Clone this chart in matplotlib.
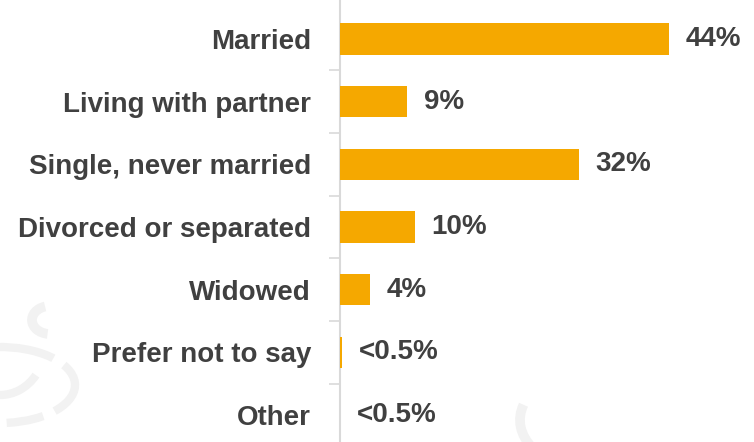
import matplotlib
matplotlib.use("Agg")
from matplotlib import pyplot as plt
from matplotlib.patches import Arc
from matplotlib.ticker import FixedLocator

categories = ["Married", "Living with partner", "Single, never married",
              "Divorced or separated", "Widowed", "Prefer not to say", "Other"]
values = [44, 9, 32, 10, 4, 0.3, 0.05]
labels = ["44%", "9%", "32%", "10%", "4%", "<0.5%", "<0.5%"]

bar_color = "#F5A800"
text_color = "#404040"
grid_gray = "#D9D9D9"
sketch_gray = "#F2F2F2"

plt.rcParams['font.family'] = ['Liberation Sans', 'DejaVu Sans']

fig = plt.figure(figsize=(7.54, 4.42), dpi=100)

# faint decorative sketch in the background (pixel coords)
bg = fig.add_axes([0, 0, 1, 1], zorder=0)
bg.set_xlim(0, 754)
bg.set_ylim(442, 0)
bg.axis("off")
bg.add_patch(Arc((0, 385), 150, 76, theta1=-95, theta2=80, color=sketch_gray,
                 lw=6, linestyle=(0, (7, 1.5))))
bg.add_patch(Arc((0, 345), 90, 100, theta1=40, theta2=90, color=sketch_gray, lw=6))
bg.add_patch(Arc((50, 320), 36, 28, theta1=100, theta2=250, color=sketch_gray, lw=7))
bg.add_patch(Arc((610, 420), 180, 110, theta1=160, theta2=190, color=sketch_gray, lw=7))
bg.add_patch(Arc((640, 510), 170, 150, theta1=55, theta2=125, color=sketch_gray, lw=8))

ax = fig.add_axes([0.451, 0.0, 0.549, 1.0], zorder=1)
ax.patch.set_alpha(0)

y = list(range(len(categories)))
ax.barh(y, values, height=0.5, color=bar_color, zorder=3)

for i in range(len(values)):
    ax.annotate(labels[i], (values[i], y[i]), xytext=(12, 0),
                textcoords="offset points", va="center", ha="left",
                fontsize=20, fontweight="bold", color=text_color)

ax.set_xlim(0, 55.4)
ax.set_ylim(6.43, -0.622)
ax.set_yticks(y)
ax.set_yticklabels(categories, fontsize=20, fontweight="bold", color=text_color)
ax.tick_params(axis="y", which="major", length=0, pad=21)
ax.yaxis.set_minor_locator(FixedLocator([i + 0.5 for i in range(len(categories) - 1)]))
ax.tick_params(axis="y", which="minor", length=8, width=1.2, color=grid_gray, direction="out")
ax.set_xticks([])

for s in ["top", "right", "bottom"]:
    ax.spines[s].set_visible(False)
ax.spines["left"].set_color(grid_gray)
ax.spines["left"].set_linewidth(1.5)

fig.savefig("out.png", dpi=100)
